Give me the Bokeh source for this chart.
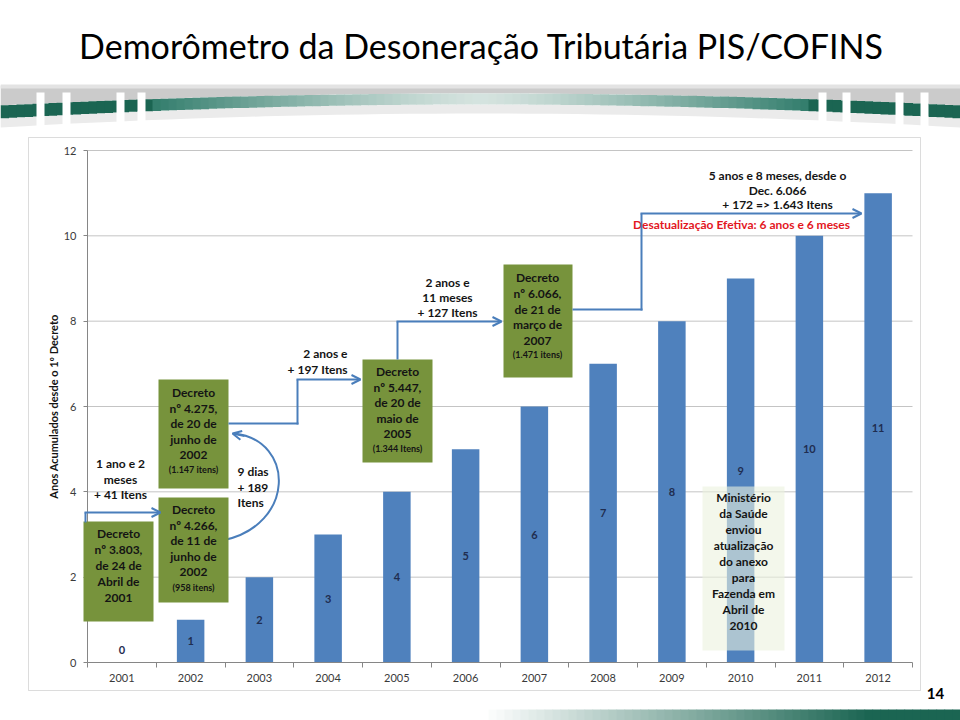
import numpy as np
from bokeh.plotting import figure
from bokeh.models import (Range1d, FixedTicker, BoxAnnotation, Label, Arrow,
                          OpenHead, ColumnDataSource, PolyAnnotation, LinearAxis)
from bokeh.embed import file_html
from bokeh.resources import INLINE
from bokeh.core.properties import value

# ---------------- data ----------------
years = ["2001", "2002", "2003", "2004", "2005", "2006",
         "2007", "2008", "2009", "2010", "2011", "2012"]
accumulated_years = [0, 1, 2, 3, 4, 5, 6, 7, 8, 9, 10, 11]
y_ticks = [0, 2, 4, 6, 8, 10, 12]

title_text = "Demorômetro da Desoneração Tributária PIS/COFINS"
y_title = "Anos Acumulados desde o 1º Decreto"

decree_a = ["Decreto", "nº 3.803,", "de 24 de", "Abril de", "2001"]
decree_b = ["Decreto", "nº 4.266,", "de 11 de", "junho de", "2002"]
decree_b_items = "(958 itens)"
decree_c = ["Decreto", "nº 4.275,", "de 20 de", "junho de", "2002"]
decree_c_items = "(1.147 itens)"
decree_d = ["Decreto", "nº 5.447,", "de 20 de", "maio de", "2005"]
decree_d_items = "(1.344 Itens)"
decree_e = ["Decreto", "nº 6.066,", "de 21 de", "março de", "2007"]
decree_e_items = "(1.471 itens)"
ministerio = ["Ministério", "da Saúde", "enviou", "atualização", "do anexo",
              "para", "Fazenda em", "Abril de", "2010"]
gap_1 = ["1 ano e 2", "meses", "+ 41 Itens"]
gap_2 = ["9 dias", "+ 189", "Itens"]
gap_3 = ["2 anos e", "+ 197 Itens"]
gap_4 = ["2 anos e", "11 meses", "+ 127 Itens"]
gap_5 = ["5 anos e 8 meses, desde o", "Dec. 6.066", "+ 172 => 1.643 Itens"]
red_note = "Desatualização Efetiva: 6 anos e 6 meses"
page_number = "14"

# ---------------- geometry (page pixels) ----------------
W, H = 960, 720
FRAME_L, FRAME_R, FRAME_T, FRAME_B = 87, 912, 150, 662
n = len(years)
UX = (FRAME_R - FRAME_L) / n
UY = (FRAME_B - FRAME_T) / 12.0


def X(px):
    return (px - FRAME_L) / UX - 0.5


def Y(py):
    return (FRAME_B - py) / UY


FONT = "Lato"
BLUE = "#4F81BD"
GREEN = "#77933C"
ARROW = "#4A7EBB"
TXT = "#141414"
AXC = "#868686"

p = figure(width=W, height=H, min_border=0,
           x_range=Range1d(X(0), X(W)), y_range=Range1d(Y(H), Y(0)),
           x_axis_type=None, y_axis_type=None,
           output_backend="svg", toolbar_location=None, tools="")
p.outline_line_color = None
p.background_fill_color = "white"
p.border_fill_color = "white"
p.grid.visible = False


def mix(c1, c2, t):
    a = [int(c1[i:i + 2], 16) for i in (1, 3, 5)]
    b = [int(c2[i:i + 2], 16) for i in (1, 3, 5)]
    return "#%02x%02x%02x" % tuple(int(round(a[k] + (b[k] - a[k]) * t)) for k in range(3))


def box(l, t, r, b, color, alpha=1.0, line=None):
    p.add_layout(BoxAnnotation(left=X(l), right=X(r), top=Y(t), bottom=Y(b),
                               fill_color=color, fill_alpha=alpha,
                               line_color=line, level="annotation"))


def lab(px, py, text, size="12px", align="center", color=TXT, bold=True, angle=0):
    p.add_layout(Label(x=X(px), y=Y(py), text=text, text_align=align,
                       text_baseline="middle", text_font=FONT,
                       text_font_size=size, text_color=color,
                       text_font_style="bold" if bold else "normal",
                       angle=angle, angle_units="deg"))


def lines(px, py0, dy, items, size="12px", align="center", color=TXT):
    for i, t in enumerate(items):
        lab(px, py0 + i * dy, t, size=size, align=align, color=color)


def seg(x0, y0, x1, y1, head=False):
    p.add_layout(Arrow(x_start=X(x0), y_start=Y(y0), x_end=X(x1), y_end=Y(y1),
                       line_color=ARROW, line_width=2,
                       end=OpenHead(size=9, line_color=ARROW, line_width=2) if head else None))


# ---------------- chart frame box ----------------
p.add_layout(BoxAnnotation(left=X(28), right=X(920), top=Y(137), bottom=Y(690),
                           fill_alpha=0, line_color="#8c8c8c", line_width=1,
                           level="underlay"))

# gridlines (horizontal, across the plot area)
p.segment(x0=[-0.5] * (len(y_ticks) - 1), x1=[n - 0.5] * (len(y_ticks) - 1),
          y0=y_ticks[1:], y1=y_ticks[1:], line_color="#c4c4c4", line_width=1)

# axes fixed inside the canvas
xaxis = LinearAxis(fixed_location=0, bounds=(-0.5, n - 0.5),
                   ticker=FixedTicker(ticks=list(range(n)),
                                      minor_ticks=[i - 0.5 for i in range(n + 1)]))
xaxis.major_label_overrides = {i: yr for i, yr in enumerate(years)}
xaxis.major_tick_out = 0
xaxis.major_tick_in = 0
xaxis.minor_tick_out = 5
xaxis.minor_tick_in = 0
xaxis.minor_tick_line_color = AXC
xaxis.axis_line_color = AXC
xaxis.major_label_standoff = 6
xaxis.major_label_text_font = FONT
xaxis.major_label_text_font_size = "11px"
xaxis.major_label_text_color = "#3a3a3a"
p.add_layout(xaxis, "below")

yaxis = LinearAxis(fixed_location=-0.5, bounds=(0, 12),
                   ticker=FixedTicker(ticks=y_ticks))
yaxis.major_tick_out = 4
yaxis.major_tick_in = 0
yaxis.minor_tick_line_color = None
yaxis.major_tick_line_color = AXC
yaxis.axis_line_color = AXC
yaxis.major_label_standoff = 7
yaxis.major_label_text_font = FONT
yaxis.major_label_text_font_size = "11px"
yaxis.major_label_text_color = "#3a3a3a"
p.add_layout(yaxis, "left")

# bars
src = ColumnDataSource(dict(
    x=list(range(n)), top=accumulated_years,
    ly=[max(v / 2.0, 0.3) for v in accumulated_years],
    t=[str(v) for v in accumulated_years]))
p.vbar(x="x", top="top", width=0.4, source=src, fill_color=BLUE, line_color=None)
p.text(x="x", y="ly", text="t", source=src, text_font=value(FONT),
       text_font_style="bold", text_font_size="11px", text_color="#1F2D50",
       text_align="center", text_baseline="middle")

# ---------------- header swoosh ----------------
xs_curve = np.linspace(0, 960, 41)
top_c = 93 + 12 * (np.abs(xs_curve - 480) / 480) ** 2
bot_c = 104 + 14 * (np.abs(xs_curve - 480) / 480) ** 2
p.add_layout(PolyAnnotation(xs=[X(v) for v in list(xs_curve) + [960, 0]],
                            ys=[Y(v) for v in list(top_c) + [85, 85]],
                            fill_color="#cbcbcb", fill_alpha=1, line_color=None))
p.add_layout(PolyAnnotation(xs=[X(v) for v in [0, 960, 960, 0]],
                            ys=[Y(v) for v in [84, 84, 88, 88]],
                            fill_color="#e3e3e3", fill_alpha=1, line_color=None))
p.add_layout(PolyAnnotation(xs=[X(v) for v in list(xs_curve) + list(xs_curve[::-1])],
                            ys=[Y(v) for v in list(bot_c) + list(bot_c[::-1] + 9)],
                            fill_color="#ebebeb", fill_alpha=1, line_color=None))
step = 8
for x0 in range(0, 960, step):
    d = abs(x0 + step / 2 - 480) / 480
    t_ = 93 + 12 * d ** 2
    b_ = 104 + 14 * d ** 2
    if d > 0.69:
        col = "#1b6552"
    else:
        col = mix("#d5e3df", "#2f7b6a", (d / 0.69) ** 1.3)
    box(x0, t_, x0 + step + 0.6, b_, col)
for g0, g1 in [(36, 44), (62, 70), (116, 124), (137, 145),
               (818, 826), (842, 850), (895, 903), (920, 928)]:
    box(g0, 92, g1, 128, "white")

# ---------------- title ----------------
lab(481, 45, title_text, size="34px", bold=False, color="#000000")

# ---------------- y axis title ----------------
lab(53, 406, y_title, size="11px", angle=90)

# ---------------- green decree boxes ----------------
box(83, 521, 153, 621, GREEN)
lines(118, 533, 16, decree_a)

box(158, 497, 228, 602, GREEN)
lines(193, 509, 15.6, decree_b)
lab(193, 587, decree_b_items, size="9px")

box(158, 379, 228, 488, GREEN)
lines(193, 392, 15.5, decree_c)
lab(193, 469, decree_c_items, size="9px")

box(362, 359, 432, 462, GREEN)
lines(397, 371, 15.7, decree_d)
lab(397, 448, decree_d_items, size="9px")

box(503, 264, 572, 377, GREEN)
lines(537, 277, 15.8, decree_e)
lab(537, 354, decree_e_items, size="9px")

# ---------------- Ministério note ----------------
box(702, 486, 784, 650, "#EBF1DE", alpha=0.6)
lines(743, 497, 16, ministerio)

# ---------------- gap notes ----------------
lines(120, 463, 15.5, gap_1)
lines(237, 471, 15.5, gap_2, align="left")
lines(347, 353, 16, gap_3, align="right")
lines(447, 282, 15, gap_4)
lines(777, 175, 14.5, gap_5)
lab(741, 224, red_note, color="#E3161E")

# ---------------- arrows ----------------
seg(85, 522, 85, 512)
seg(84, 512, 160, 512, head=True)

p.bezier(x0=[X(222)], y0=[Y(540)], x1=[X(234)], y1=[Y(433)],
         cx0=[X(295)], cy0=[Y(525)], cx1=[X(295)], cy1=[Y(440)],
         line_color=ARROW, line_width=2)
seg(244, 435.5, 232, 433, head=True)

seg(228, 423, 298, 423)
seg(297, 424, 297, 379)
seg(296, 379, 360, 379, head=True)

seg(397, 359, 397, 321)
seg(396, 321, 501, 321, head=True)

seg(572, 309, 642, 309)
seg(641, 310, 641, 213)
seg(640, 213, 861, 213, head=True)

# ---------------- footer ----------------
lab(935, 693, page_number, size="15px", color="#000000")
for x0 in range(480, 960, step):
    tt = (x0 - 480) / 480.0
    box(x0, 709, x0 + step + 0.6, 722, mix("#ffffff", "#1b6552", min(1, tt * 1.25)))

open("out.html", "w").write(file_html(p, INLINE))
